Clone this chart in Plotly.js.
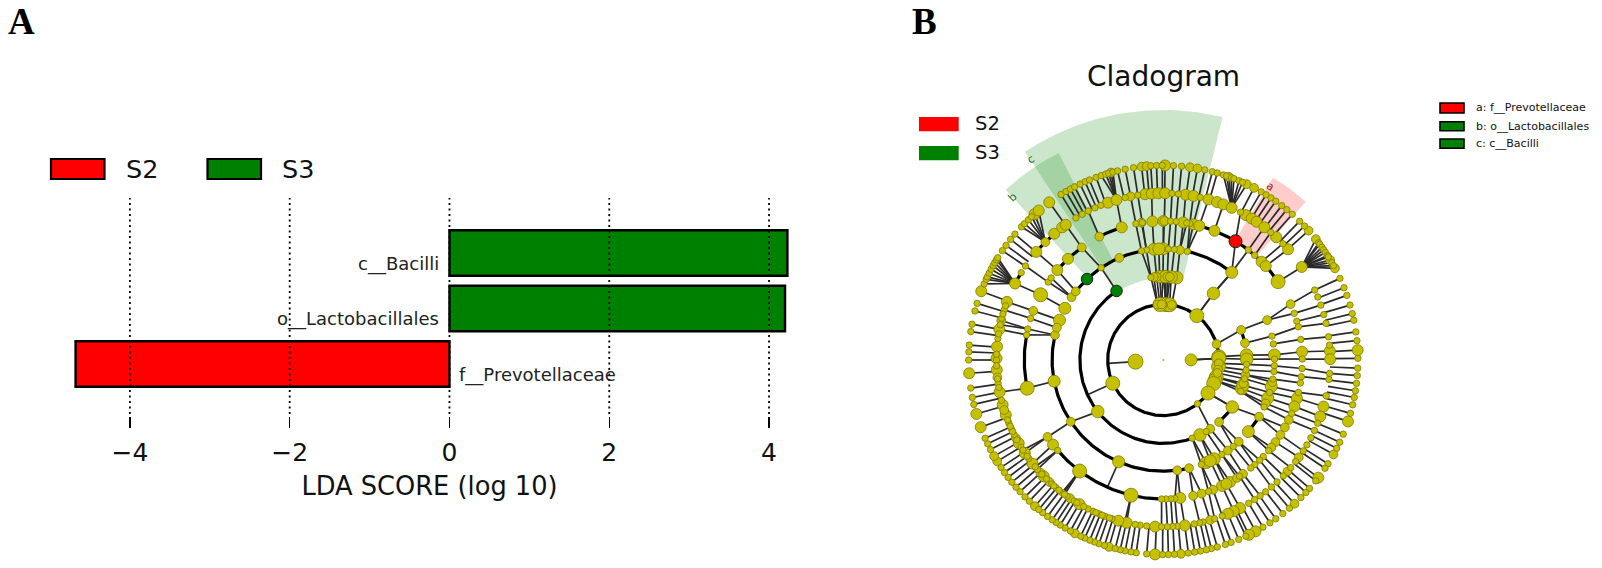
<!DOCTYPE html>
<html><head><meta charset="utf-8">
<script src="https://cdn.plot.ly/plotly-3.0.1.min.js"></script>
<style>html,body{margin:0;padding:0;background:#fff}#p{width:1602px;height:568px}</style></head>
<body><div id="p"></div>
<script>
// ---------- Panel A data ----------
const taxa = ["c__Bacilli","o__Lactobacillales","f__Prevotellaceae"];
const ldaScores = [4.23,4.2,-4.68];
const barRows = [2,1,0];
const ldaTicks = [-4,-2,0,2,4];
const groups = ["S2","S3"];
const cladeKey = ["a: f__Prevotellaceae","b: o__Lactobacillales","c: c__Bacilli"];

// ---------- Panel B data: node angles (degrees) per taxonomic level, by node size class ----------
const lv1l = [0.2,-176.6];
const lv2s = [-52];
const lv2m = [16.7,95.9,91.7,81.3,-3.5,-10,-13.5];
const lv2l = [52.9,3.4,1.7,-6.8,-18,-21.5,-25,-36.5,-155.3,86.5,88.5,83.5,93.5];
const lv3s = [-69.7,-59,-22,98.5,-3,-7,-13];
const lv3m = [11.7,-10.3,-16.3,-48,-55.7,21.1,94.6,87.2,96.5,85.5];
const lv3l = [53,3.4,0.5,-20,-34.3,-63.9,-141.8,90.2,80.7,84.5,92.5,88.5,-17.5];
const lv4s = [124,77.5,12.4,8.3,0.5,-3,-6,-9.9,-17,-25,-51,-58.2,-70,98.7,87.4,84.3,101.3];
const lv4m = [21,-30.6,-47.3,-54.5,-76.6,-82.8,-146.3,167,163.1,145.6,141.9,113.3,81.4,-11.5,-23];
const lv4l = [52,2.6,-13.8,-20,-40.1,-62.7,-67.4,-65,-113.7,-169,159,152.3,94.8,90,92.3];
const lv5s = [19.6,16.2,13.8,8.5,0.4,-6.9,-13.5,-22.6,-40.7,-44,-46.1,-48.8,-51,-56.7,-71,-85.2,-86.9,-88.9,-90.7,-139.4,169.6,167.1,162.6,145.9,143.8,101.4,98.7,87,84.7,79,52.3,48.9,80.3,-9.5,-3.5];
const lv5m = [23.7,-25.5,-29,-32.6,-36.2,-55,-69,-74,-77.6,-146.4,159.3,117.4,125.9,99,89.6,-58,-39];
const lv5l = [3.4,-16,-19.5,-61.3,-65,-63,-83,-142.5,139.7,133.3,107.4,94.5,90,81.7,77.5,75,68.4,45,42.5];
const lv5x = [34.3,-103.4,-127,-168.3,152];
const lv6s = [24.8,22.2,19.2,15.8,12.7,8,5.1,-4.6,-6.7,-12.4,-22.3,-25,-27.8,-30.6,-33,-37.5,-40.2,-44,-47,-49.6,-52.2,-54.5,-56.8,-59.2,-69.3,-72.1,-76.2,-77.4,-79.3,-85.2,-86.8,-88.6,-90.6,-95.7,-98,-99.7,-107.9,-110.4,-112.6,-114.9,-116.8,-122.3,-125.2,-127.4,-130,-139,-153.4,-157.8,-172,-180,172.6,162.5,165.5,148.4,145.7,121.6,119.1,116.7,114.2,112,103.2,98.8,87,84.8,77.2,62.4,49.9,44.2,-118.5,-132,-143.8,-148.5,-155.5,-108.8,-111.5,-113.8,-121.2,-126.3,-128.7,-131,-134.5,-136.8,-140.2,-144.7,-147.3,-151.4,-154.6,-156.6,-159,-166,-170.5,-173.5,-178,178,171,167.8,164,161];
const lv6m = [-35.7,-41.9,-73.7,-133,135,166.3,101.3,-124,-137.5,-152,-162.5,-174];
const lv6l = [3.1,0.3,-16.2,-19.8,-62.6,-65,-67.2,-82.6,-92.8,-102.7,-105.6,-120.2,-135.8,-141.6,-146.1,-150.1,-160.8,-164.4,-168.9,-176.6,179.4,175.4,169.4,159.6,152.7,139.6,130.8,127.3,125.8,109.4,106.3,96.3,94,91.7,89.4,82.3,79.6,74.3,71.2,68.9,65.8,60.3,58,56,52.7,47.4,41.6,33.9];
const lv7s = [0.5,-2.4,-4.6,-6.9,-9.1,-11.1,-13.3,-15.9,-22.4,-25,-27,-32.2,-33.8,-38.4,-41.3,-42.9,-45,-49.6,-52.1,-54.7,-56.8,-59.2,-64.9,-67.2,-69.6,-71.4,-73.9,-75.7,-77.2,-79,-80.7,-82.6,-86.7,-88.5,-90.2,-94.9,-98,-99.6,-101.3,-102.8,-104.3,-107.6,-109.3,-110.7,-112.2,-113.8,-115.1,-118.5,-120.3,-122,-123.4,-124.8,-126.5,-128.3,-129.8,-133.5,-135.3,-137.4,-139.2,-141.1,-142.9,-144.7,-146.5,-152.6,-154.5,-156.3,-166.8,-168.9,-171.7,-180,177.6,175.6,171.6,169.4,165.4,163.1,157,155.5,154.7,153.5,152.2,151,150,149,148.3,145.8,143.9,141.7,139.7,136.8,135.5,133.9,132.6,121.7,120,118.5,117.1,115.3,113.7,112.3,110.2,108.6,107.2,106.3,105,103.6,101.3,98.8,93.7,92,90.3,87,84.6,77.7,75.4,73.9,72,71,69.5,68.7,67.1,66,59.8,58.1,56.4,54.7,52.5,50.6,48.5,45.5,43.5,37,36.5,35.4,34.5,33.6,32.5,32,30,29,24.8,21.8,19.4,16.4,13.8,11.8,8.3,5.7];
const lv7m = [-29,-47.6,-84.8,-106.2,-117,-131.3,-148.6,-150.4,105.6,96.4,94.9,82.1,79.9,70.3,64.6,62.2,41.7,38.4,30.9,28.1];
const lv7l = [-18.4,-37.2,-61.7,-63.9,-92.4,-159.8,-163.9,-176.1,159.3,131.4,129.8,125.9,2.9,89.5];
const lvHitsS3 = [[3,124.1],[4,133.3]];
const lvHitsS2 = [[5,58.7]];

// thick sibling arcs: [level, from angle, to angle]
const arcs = [[2,0,360],[3,124,290.3],[3,-48,-34.3],[3,11.7,21.1],[4,167,283.4],[4,101.3,141.9],[4,52,77.5],[4,-40.1,-30.6],
  [5,169.6,191.7],[5,220.6,268],[5,125.9,139.7],[5,107.4,117.4],[5,34.3,75],[6,148.4,152.7],[6,130.8,139.6]];
// explicit thin connectors: [inner level, inner angle, outer angle]
const spokes = [[1,0.2,1.7],[1,-176.6,-176.6],[2,52.9,53],[2,16.7,21.1],[2,-52,-55.7],[2,-36.5,-34.3],[2,-155.3,-155.3],
  [3,-141.8,-146.3],[3,-34.3,-30.6],[3,124.1,124],[4,-113.7,-113.7],[5,-127,-127],[5,-103.4,-103.4],[5,58.7,62.4],[4,52,58.7],[2,86.5,90.2],[3,53,52]];
// fans of leaves converging on one parent: [parent angle, lowest child, highest child]
const fans = [[152.7,148,157.5],[135,129.5,137],[106.3,104,108.7],[65.8,64,72.5],[33.9,27.4,39]];
// clade shading: [clade, inner radius, outer radius, from angle, to angle, colour]
const wedges = [["c",82,250,76.3,123.6,"rgba(0,128,0,0.2)"],["b",111,232,116.8,132.8,"rgba(0,128,0,0.2)"],["a",139,213,48,59,"rgba(255,0,0,0.2)"]];

// ---------- helpers ----------
const W=1602,H=568;
const px=x=>x/W, py=y=>1-y/H;
const STEP=27.8, rad=l=>l*STEP;
const polar=(r,t)=>[r*Math.cos(t*Math.PI/180), r*Math.sin(t*Math.PI/180)];
const norm=t=>((t%360)+540)%360-180;
const adiff=(a,b)=>Math.abs(norm(a-b));

const SIZE={s:6.4,m:8.8,l:11,x:14};
const levels={
 1:{l:lv1l},2:{s:lv2s,m:lv2m,l:lv2l},3:{s:lv3s,m:lv3m,l:lv3l},4:{s:lv4s,m:lv4m,l:lv4l},
 5:{s:lv5s,m:lv5m,l:lv5l,x:lv5x},6:{s:lv6s,m:lv6m,l:lv6l},7:{s:lv7s,m:lv7m,l:lv7l}};
const all=l=>Object.values(levels[l]).flat();

// thin lines
const lx=[],ly=[];
const seg=(r0,t0,r1,t1)=>{const a=polar(r0,t0),b=polar(r1,t1);lx.push(a[0],b[0],null);ly.push(a[1],b[1],null);};
all(7).forEach(t=>{const f=fans.find(f=>t>=f[1]&&t<=f[2]);seg(rad(7),t,rad(6),f?f[0]:t);});
for(let k=6;k>=2;k--){
  const inner=all(k-1),tol=k===6?1.2:3;
  all(k).forEach(t=>{
    let best=null,bd=1e9;inner.forEach(p=>{const d=adiff(p,t);if(d<bd){bd=d;best=p;}});
    if(bd<=tol)seg(rad(k),t,rad(k-1),best);
  });
}
spokes.forEach(s=>seg(rad(s[0]),s[1],rad(s[0]+1),s[2]));

// thick arcs
const ax=[],ay=[];
arcs.forEach(a=>{for(let t=a[1];;t+=1){const q=polar(rad(a[0]),Math.min(t,a[2]));ax.push(q[0]);ay.push(q[1]);if(t>=a[2])break;}ax.push(null);ay.push(null);});

// nodes, big ones first
const nx=[],ny=[],ns=[];
[7,6,5,4,3,2,1].forEach(l=>{['x','l','m','s'].forEach(c=>{(levels[l][c]||[]).forEach(t=>{const q=polar(rad(l),t);nx.push(q[0]);ny.push(q[1]);
  ns.push(l===1?(t<-90?15:12):l===2&&c==='l'?14:l===3&&c==='l'?12.5:l===4&&c==='l'?12:SIZE[c]);});});});

const common={xaxis:'x2',yaxis:'y2',hoverinfo:'skip',showlegend:false};
const traces=[];
traces.push({type:'bar',orientation:'h',x:ldaScores,y:barRows,width:0.82,
  marker:{color:ldaScores.map(v=>v<0?'#ff0000':'#008000'),line:{color:'#000',width:2.4}},hoverinfo:'skip',showlegend:false,xaxis:'x',yaxis:'y'});
wedges.forEach(w=>{const xs=[],ys=[];
  for(let t=w[3];t<=w[4]+.01;t+=1){const q=polar(w[2],t);xs.push(q[0]);ys.push(q[1]);}
  {const q=polar(w[2],w[4]);xs.push(q[0]);ys.push(q[1]);const p=polar(w[1],w[4]);xs.push(p[0]);ys.push(p[1]);}
  for(let t=w[4];t>=w[3]-.01;t-=1){const q=polar(w[1],t);xs.push(q[0]);ys.push(q[1]);}
  {const q=polar(w[1],w[3]);xs.push(q[0]);ys.push(q[1]);}
  traces.push(Object.assign({type:'scatter',mode:'lines',x:xs,y:ys,fill:'toself',fillcolor:w[5],line:{width:0}},common));});
traces.push(Object.assign({type:'scatter',mode:'lines',x:lx,y:ly,line:{color:'#2a2a2a',width:1.7}},common));
traces.push(Object.assign({type:'scatter',mode:'lines',x:ax,y:ay,line:{color:'#000',width:3.2}},common));
traces.push(Object.assign({type:'scatter',mode:'markers',x:nx,y:ny,marker:{size:ns,opacity:1,color:'#c6c100',line:{color:'#7d7a00',width:0.8}}},common));
traces.push(Object.assign({type:'scatter',mode:'markers',x:[0],y:[0],marker:{size:2,opacity:1,color:'#c6c100'}},common));
[[lvHitsS3,'#008000',11.5],[lvHitsS2,'#ff0000',13]].forEach(h=>{
  const pts=h[0].map(p=>polar(rad(p[0]),p[1]));
  traces.push(Object.assign({type:'scatter',mode:'markers',x:pts.map(p=>p[0]),y:pts.map(p=>p[1]),marker:{size:h[2],opacity:1,color:h[1],line:{color:'#0b2b0b',width:1}}},common));});

const DV='DejaVu Sans';
const ann=(text,x,y,size,opt)=>Object.assign({text,x:px(x),y:py(y),xref:'paper',yref:'paper',showarrow:false,xanchor:'left',yanchor:'middle',
   font:{family:DV,size,color:'#111'}},opt||{});
const annotations=[
  ann('A',6,21,37,{font:{family:'Liberation Serif',size:37,color:'#000'},text:'<b>A</b>'}),
  ann('B',910,21,37,{font:{family:'Liberation Serif',size:37,color:'#000'},text:'<b>B</b>'}),
  ann(groups[0],124,169,25.5),ann(groups[1],280,169,25.5),
  ann('Cladogram',1163,77,28,{xanchor:'center'}),
  ann(groups[0],973,124,19.5),ann(groups[1],973,153,19.5),
  ann(cladeKey[0],1474,108,11),ann(cladeKey[1],1474,126,11),ann(cladeKey[2],1474,143.5,11)
];
taxa.forEach((t,i)=>{const neg=ldaScores[i]<0;annotations.push({text:t,x:0,y:barRows[i],xref:'x',yref:'y',showarrow:false,
  xanchor:neg?'left':'right',yanchor:'middle',xshift:neg?8:-8,yshift:-11,font:{family:DV,size:18,color:'#222'}});});
[["a",204,58.4,'#a02020',31],["b",222,132.8,'#1f6b2a',-43],["c",240,123.5,'#1f6b2a',-33]].forEach(l=>{const q=polar(l[1],l[2]);
  annotations.push({text:l[0],x:q[0],y:q[1],xref:'x2',yref:'y2',showarrow:false,textangle:l[4],font:{family:DV,size:11,color:l[3]}});});

const shapes=[];
ldaTicks.forEach(t=>shapes.push({type:'line',xref:'x',yref:'y',x0:t,x1:t,y0:-0.9,y1:2.99,layer:'above',line:{color:'#000',width:1.8,dash:'2px,3.5px'}}));
const box=(x0,y0,x1,y1,fill,lc,lw)=>shapes.push({type:'rect',xref:'paper',yref:'paper',x0:px(x0),x1:px(x1),y0:py(y1),y1:py(y0),fillcolor:fill,line:{color:lc,width:lw}});
box(51,159,104.5,179,'#ff0000','#000',2.2);box(207.5,159,261,179,'#008000','#000',2.2);
box(919,117,958.7,131.3,'#ff0000','#ff0000',0);box(919,146,958.7,160.3,'#008000','#008000',0);
box(1440,103,1464,113,'#ff0000','#000',1.6);box(1440,121.7,1464,130.7,'#008000','#000',1.6);box(1440,139,1464,148.3,'#008000','#000',1.6);

const layout={width:W,height:H,margin:{l:0,r:0,t:0,b:0},paper_bgcolor:'#fff',plot_bgcolor:'rgba(0,0,0,0)',showlegend:false,bargap:0,
  xaxis:{domain:[px(58),px(801)],range:[-4.9,4.4],tickmode:'array',tickvals:ldaTicks,ticks:'inside',ticklen:11,tickwidth:1.5,tickcolor:'#000',
    showgrid:false,zeroline:false,showline:false,ticklabelstandoff:7,tickfont:{family:DV,size:25,color:'#111'},
    title:{text:'LDA SCORE (log 10)',standoff:11,font:{family:DV,size:25.7,color:'#111'}}},
  yaxis:{domain:[py(428),py(198)],range:[-1.153,2.99],visible:false,fixedrange:true},
  xaxis2:{domain:[px(900),px(1400)],range:[900-1163.3,1400-1163.3],visible:false,anchor:'y2'},
  yaxis2:{domain:[0,py(100)],range:[-(568-360),360-100],visible:false,anchor:'x2'},
  annotations,shapes};
Plotly.newPlot('p',traces,layout,{displayModeBar:false,staticPlot:true});
</script></body></html>
